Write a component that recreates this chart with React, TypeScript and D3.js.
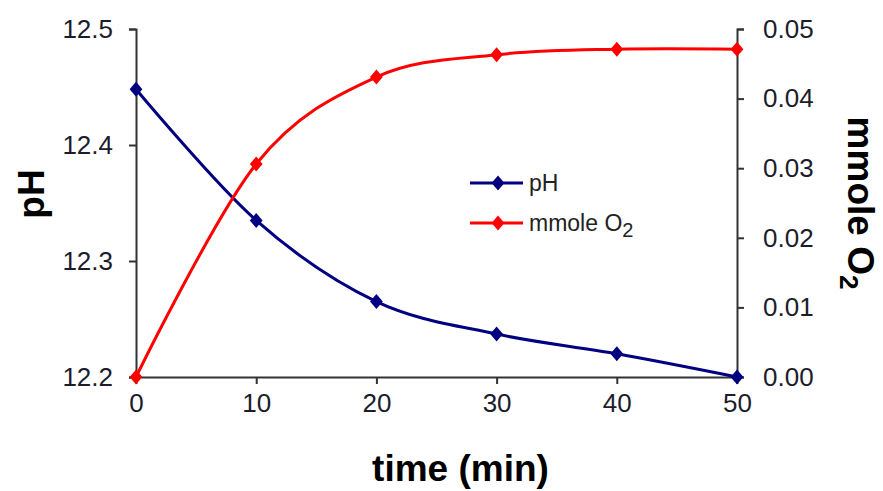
import React, {useRef, useEffect} from "react";
import * as d3 from "d3";

const times = [0, 10, 20, 30, 40, 50];
const phValues = [12.448, 12.335, 12.265, 12.237, 12.220, 12.200];
const o2Values = [0.0, 0.0306, 0.0431, 0.0463, 0.0471, 0.0471];

const xTicks = [0, 10, 20, 30, 40, 50];
const phTicks = [12.2, 12.3, 12.4, 12.5];
const o2Ticks = [0.0, 0.01, 0.02, 0.03, 0.04, 0.05];

const seriesNames = ["pH", "mmole O"];
const seriesColors = ["#000080", "#ff0000"];

// Excel style marker: a diamond a bit taller than wide
const excelDiamond = {
	draw(context, size) {
		let h = Math.sqrt(size) * 0.75;
		let w = h * 0.85;
		context.moveTo(0, -h);
		context.lineTo(w, 0);
		context.lineTo(0, h);
		context.lineTo(-w, 0);
		context.closePath();
	}
};

export default function App() {

	const refChart = useRef(null);

	let layout = {"width": 883,
				  "height": 491,
				  "left": 136,
				  "right": 737,
				  "top": 29,
				  "bottom": 377};

	useEffect(() => {

		let svg = d3.select(refChart.current);
		svg.selectAll("*").remove();

		let font = "Arial, 'Liberation Sans', sans-serif";
		let axisColor = "#333";
		let labelColor = "#1c1c2c";

		let xScale = d3.scaleLinear().domain([0, 50]).range([layout.left, layout.right]);
		let yLeft = d3.scaleLinear().domain([12.2, 12.5]).range([layout.bottom, layout.top]);
		let yRight = d3.scaleLinear().domain([0, 0.05]).range([layout.bottom, layout.top]);

		// axes
		let xAxis = svg.append("g")
			.attr("transform", `translate(0, ${layout.bottom})`)
			.call(d3.axisBottom(xScale).tickValues(xTicks).tickSize(7).tickSizeOuter(0).tickPadding(10));

		let leftAxis = svg.append("g")
			.attr("transform", `translate(${layout.left}, 0)`)
			.call(d3.axisLeft(yLeft).tickValues(phTicks).tickFormat(d3.format(".1f")).tickSize(7).tickSizeOuter(7).tickPadding(16));

		let rightAxis = svg.append("g")
			.attr("transform", `translate(${layout.right}, 0)`)
			.call(d3.axisRight(yRight).tickValues(o2Ticks).tickFormat(d3.format(".2f")).tickSize(7).tickSizeOuter(7).tickPadding(19));

		for (let a of [xAxis, leftAxis, rightAxis]) {
			a.select(".domain").attr("stroke", axisColor).attr("stroke-width", 2);
			a.selectAll(".tick line").attr("stroke", axisColor).attr("stroke-width", 2);
			a.selectAll(".tick text")
				.attr("fill", labelColor)
				.attr("font-family", font)
				.attr("font-size", 26);
		}

		// series
		let series = [phValues.map((v, i) => [xScale(times[i]), yLeft(v)]),
					  o2Values.map((v, i) => [xScale(times[i]), yRight(v)])];

		let line = d3.line().curve(d3.curveCardinal.tension(0));
		let diamond = d3.symbol().type(excelDiamond).size(100);

		series.forEach((pts, si) => {
			svg.append("path")
				.attr("d", line(pts))
				.attr("fill", "none")
				.attr("stroke", seriesColors[si])
				.attr("stroke-width", 3);

			svg.selectAll(`.mark${si}`)
				.data(pts)
				.join("path")
				.attr("class", `mark${si}`)
				.attr("transform", d => `translate(${d[0]}, ${d[1]})`)
				.attr("d", diamond)
				.attr("fill", seriesColors[si]);
		});

		// legend
		let legend = svg.append("g").attr("transform", "translate(470, 183)");
		seriesNames.forEach((name, i) => {
			let g = legend.append("g").attr("transform", `translate(0, ${i * 40})`);
			g.append("line")
				.attr("x1", 0).attr("x2", 53)
				.attr("stroke", seriesColors[i])
				.attr("stroke-width", 3);
			g.append("path")
				.attr("transform", "translate(28, 0)")
				.attr("d", diamond)
				.attr("fill", seriesColors[i]);
			let t = g.append("text")
				.attr("x", 59)
				.attr("y", 8)
				.attr("font-family", font)
				.attr("font-size", 23)
				.attr("fill", "#222")
				.text(name);
			if (i === 1) {
				t.append("tspan").attr("dy", 6).attr("font-size", 20).text("2");
			}
		});

		// axis titles
		svg.append("text")
			.attr("x", (layout.left + layout.right) / 2 + 24)
			.attr("y", 481)
			.attr("text-anchor", "middle")
			.attr("font-family", font)
			.attr("font-weight", "bold")
			.attr("font-size", 37)
			.attr("fill", "#000")
			.text("time (min)");

		svg.append("text")
			.attr("transform", "translate(44, 194) rotate(-90)")
			.attr("text-anchor", "middle")
			.attr("font-family", font)
			.attr("font-weight", "bold")
			.attr("font-size", 37)
			.attr("fill", "#000")
			.text("pH");

		let rightTitle = svg.append("text")
			.attr("transform", "translate(848, 203) rotate(90)")
			.attr("text-anchor", "middle")
			.attr("font-family", font)
			.attr("font-weight", "bold")
			.attr("font-size", 37)
			.attr("fill", "#000")
			.text("mmole O");
		rightTitle.append("tspan").attr("dy", 8).attr("font-size", 26).text("2");

	}, []);

	return (
		<svg ref={refChart}
			 width={layout.width}
			 height={layout.height}
			 style={{position: "absolute", left: 0, top: 0, background: "#fff"}} />
	);
}
